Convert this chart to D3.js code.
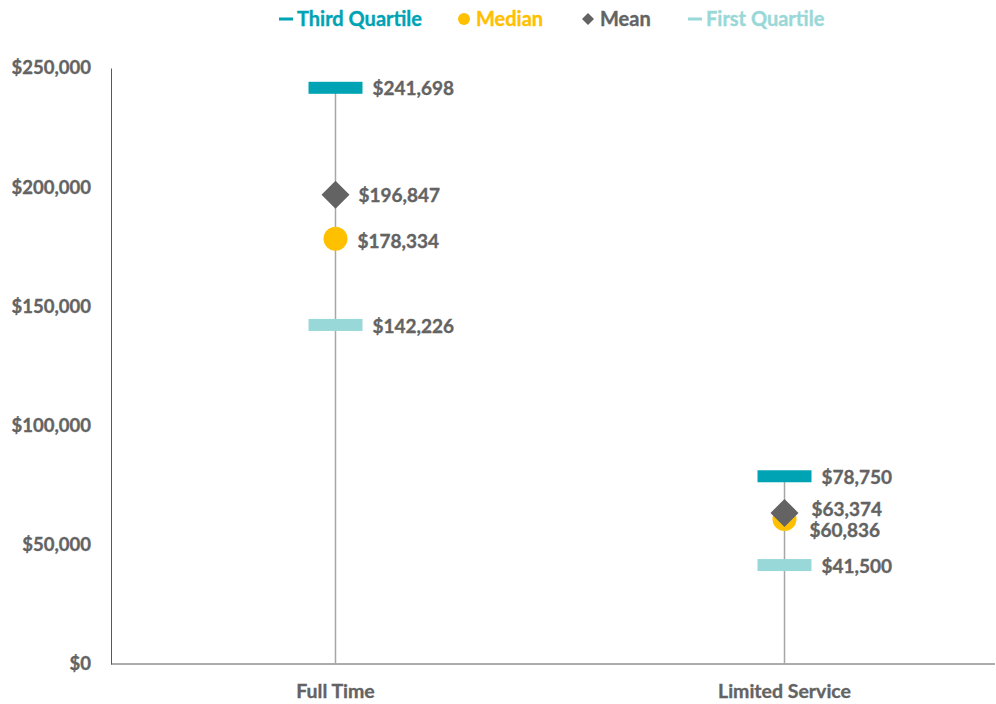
<!DOCTYPE html>
<html>
<head>
<meta charset="utf-8">
<script src="https://cdn.jsdelivr.net/npm/d3@7"></script>
<style>
  body{margin:0;background:#fff;}
  text{font-family:Lato,"Open Sans",sans-serif;font-weight:bold;stroke-width:0.35px;}
</style>
</head>
<body>
<svg id="chart" width="996" height="704"></svg>
<script>
var categories = ["Full Time", "Limited Service"];
var thirdQuartile = [241698, 78750];
var median = [178334, 60836];
var mean = [196847, 63374];
var firstQuartile = [142226, 41500];
var yTicks = [0, 50000, 100000, 150000, 200000, 250000];

var colors = {q3:"#00a3b4", med:"#ffc000", mean:"#636363", q1:"#99d8d8"};
var labelGray = "#636363";

var svg = d3.select("#chart");
var fmt = function(v){ return "$" + d3.format(",")(v); };

var x = d3.scaleBand().domain(categories).range([111, 1009]);
var y = d3.scaleLinear().domain([0, 250000]).range([664, 68]);
var cx = function(c){ return x(c) + x.bandwidth()/2; };

// y axis
var yAxis = d3.axisLeft(y).tickValues(yTicks).tickSize(0).tickPadding(20).tickFormat(fmt);
var gy = svg.append("g").attr("transform","translate(111,0)").call(yAxis);
gy.select(".domain").attr("stroke","#595959");
gy.selectAll("text").attr("fill",labelGray).attr("stroke",labelGray).style("font-size","18.5px");

// x axis
var xAxis = d3.axisBottom(x).tickSize(0).tickPadding(20);
var gx = svg.append("g").attr("transform","translate(0,664)").call(xAxis);
gx.select(".domain").remove();
gx.selectAll("text").attr("fill",labelGray).attr("stroke",labelGray).style("font-size","19.5px");
svg.append("line").attr("x1",111).attr("x2",995).attr("y1",664).attr("y2",664)
    .attr("stroke","#595959");

// drop lines
svg.selectAll(".drop").data(categories).enter().append("line")
    .attr("x1",function(d){ return cx(d); }).attr("x2",function(d){ return cx(d); })
    .attr("y1",function(d,i){ return y(thirdQuartile[i]); }).attr("y2",y(0))
    .attr("stroke","#a6a6a6").attr("stroke-width",1.5);

var barW = 54, barH = 12;
function drawBars(vals, color){
    svg.selectAll(null).data(categories).enter().append("rect")
        .attr("x",function(d){ return cx(d) - barW/2; })
        .attr("y",function(d,i){ return y(vals[i]) - barH/2; })
        .attr("width",barW).attr("height",barH).attr("fill",color);
}
drawBars(thirdQuartile, colors.q3);
drawBars(firstQuartile, colors.q1);

svg.selectAll(".med").data(categories).enter().append("circle")
    .attr("cx",function(d){ return cx(d); })
    .attr("cy",function(d,i){ return y(median[i]); })
    .attr("r",12).attr("fill",colors.med);

svg.selectAll(".mean").data(categories).enter().append("path")
    .attr("transform",function(d,i){ return "translate(" + cx(d) + "," + y(mean[i]) + ")"; })
    .attr("d","M0,-14L14,0L0,14L-14,0Z").attr("fill",colors.mean);

// value labels
function drawLabels(vals, dxFn, dyFn){
    svg.selectAll(null).data(categories).enter().append("text")
        .attr("x",function(d,i){ return cx(d) + dxFn(i); })
        .attr("y",function(d,i){ return y(vals[i]) + dyFn(i); })
        .attr("dy","0.35em")
        .attr("fill",labelGray).attr("stroke",labelGray).style("font-size","19px")
        .text(function(d,i){ return fmt(vals[i]); });
}
drawLabels(thirdQuartile, function(){ return 37; }, function(){ return 1; });
drawLabels(mean, function(i){ return i === 1 ? 27 : 23; }, function(i){ return i === 1 ? -4 : 1; });
drawLabels(median, function(i){ return i === 1 ? 25 : 22; }, function(i){ return i === 1 ? 11 : 2; });
drawLabels(firstQuartile, function(){ return 37; }, function(){ return 1; });

// legend
var legend = [
    {name:"Third Quartile", color:colors.q3, shape:"line", x:279},
    {name:"Median", color:colors.med, shape:"circle", x:458},
    {name:"Mean", color:colors.mean, shape:"diamond", x:582},
    {name:"First Quartile", color:colors.q1, shape:"line", x:688}
];
var lg = svg.append("g").selectAll("g").data(legend).enter().append("g")
    .attr("transform",function(d){ return "translate(" + d.x + ",19)"; });
lg.each(function(d){
    var g = d3.select(this);
    if (d.shape === "line") {
        g.append("rect").attr("x",0).attr("y",-1.5).attr("width",14).attr("height",3).attr("fill",d.color);
    } else if (d.shape === "circle") {
        g.append("circle").attr("cx",6).attr("cy",0).attr("r",6).attr("fill",d.color);
    } else {
        g.append("path").attr("d","M6,-6L12,0L6,6L0,0Z").attr("fill",d.color);
    }
    g.append("text").attr("x",18).attr("dy","0.35em")
        .attr("fill",d.color).attr("stroke",d.color).style("font-size","20px").text(d.name);
});
</script>
</body>
</html>
